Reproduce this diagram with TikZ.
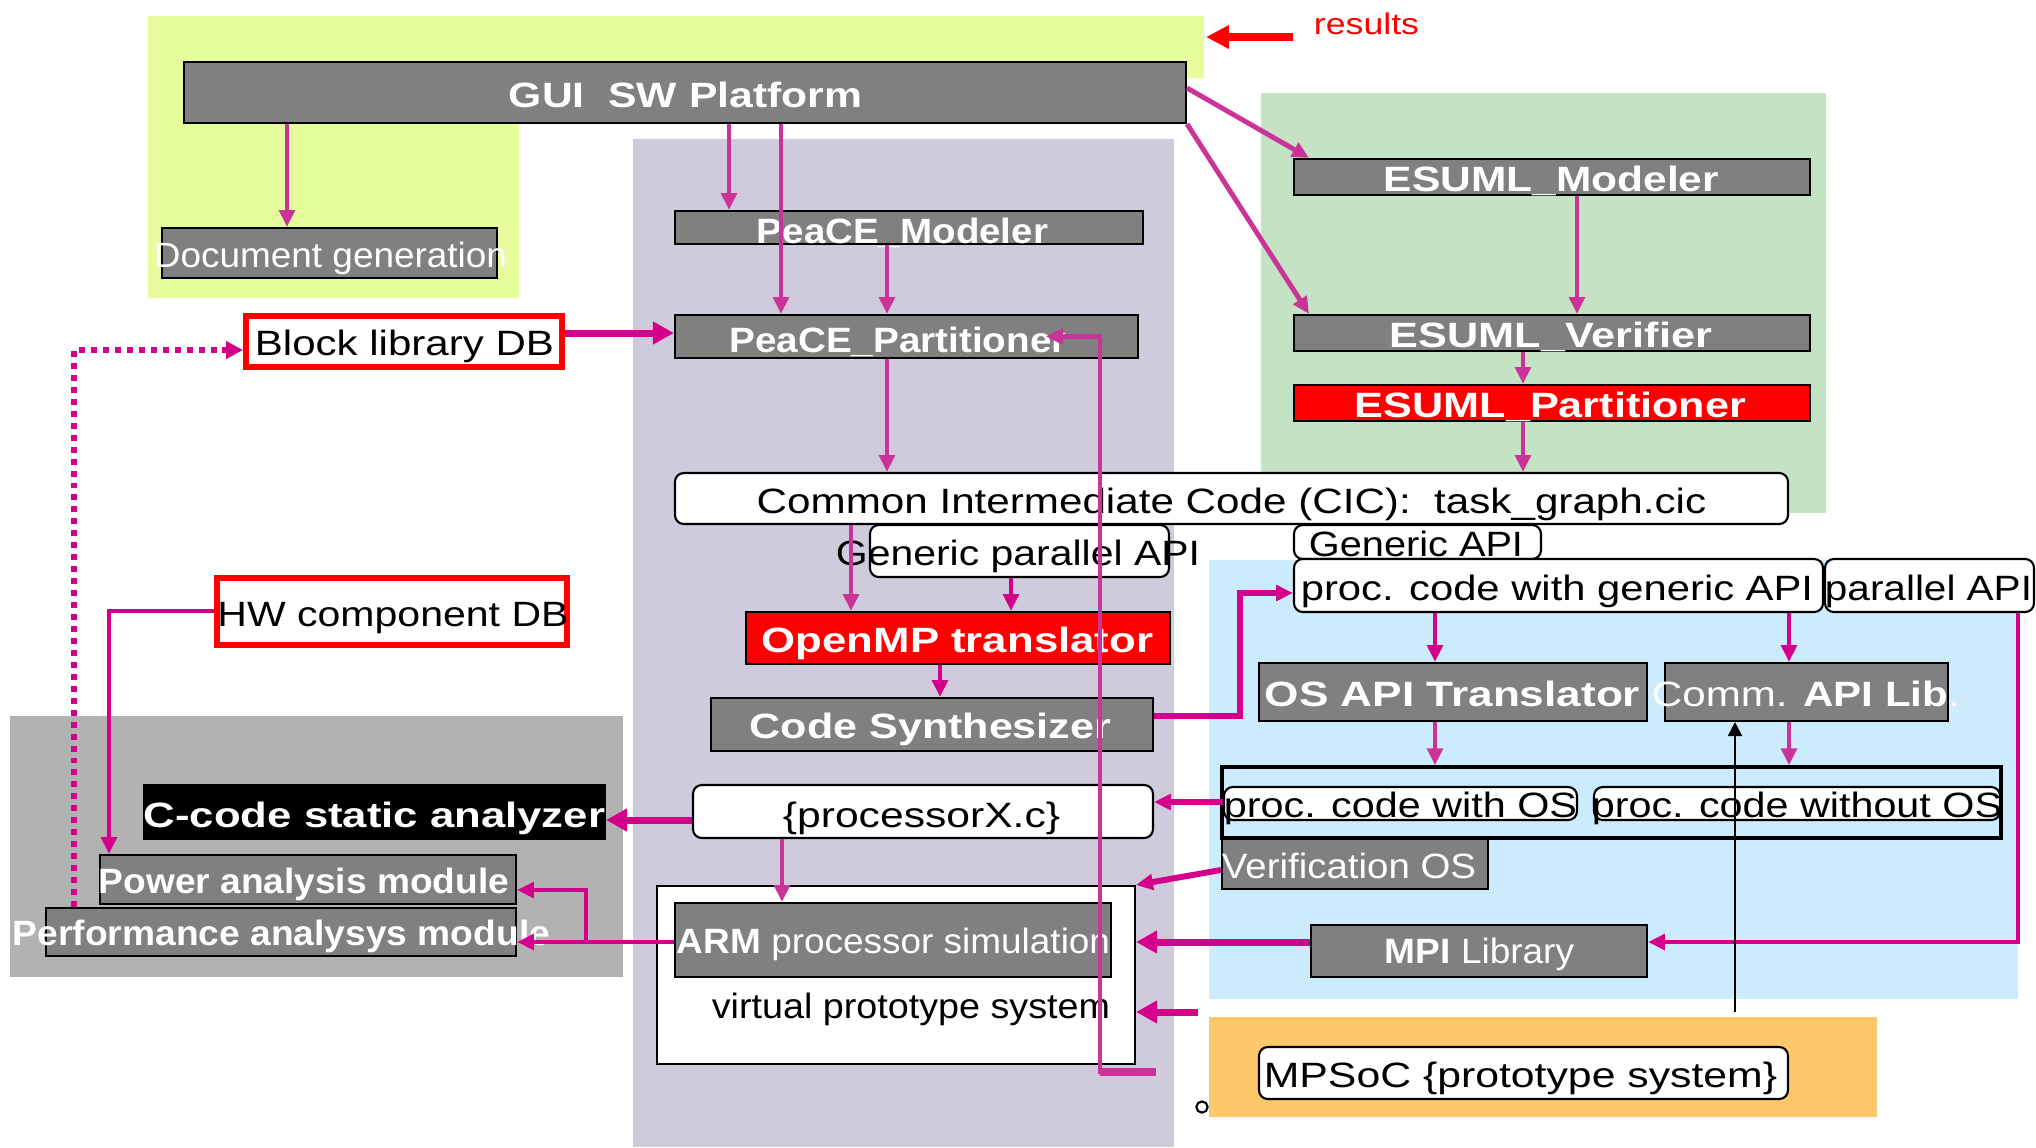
\documentclass[tikz,border=0pt]{standalone}
\usepackage{fontspec}
\setmainfont{Liberation Sans}
\usepackage{graphicx}
\usetikzlibrary{arrows.meta,fit}

\definecolor{ylw}{RGB}{229,253,157}
\definecolor{lav}{RGB}{207,203,221}
\definecolor{grn}{RGB}{196,227,196}
\definecolor{sky}{RGB}{204,235,252}
\definecolor{org}{RGB}{253,200,106}
\definecolor{gry}{RGB}{178,178,178}
\definecolor{boxg}{RGB}{128,128,128}
\definecolor{mag}{RGB}{212,0,140}
\definecolor{lmag}{RGB}{204,51,153}

% set a text horizontally squeezed/stretched to a given width (1 unit = 0.01cm)
\newsavebox\fitbox
\newcommand\fitto[2]{\sbox\fitbox{#2}\pgfmathsetmacro\fitsx{#1*0.284528/\the\wd\fitbox}\scalebox{\fitsx}[1]{\usebox\fitbox}}

\tikzset{
  gbox/.style={draw=black, fill=boxg, line width=0.6pt, inner sep=0pt},
  rbox/.style={draw=black, fill=red, line width=0.6pt, inner sep=0pt},
  kbox/.style={draw=black, fill=black, line width=0.6pt, inner sep=0pt},
  wbox/.style={draw=black, fill=white, line width=0.6pt, rounded corners=2.5pt, inner sep=0pt},
  dbbox/.style={draw=red, fill=white, line width=1.7pt, inner sep=0pt},
  plainbox/.style={draw=black, fill=white, line width=0.6pt, inner sep=0pt},
  framebox/.style={draw=black, line width=1pt, inner sep=0pt},
  lbl/.style={inner sep=0pt, anchor=base, font=\fontsize{10}{12}\selectfont},
  wlbl/.style={lbl, text=white},
  flow/.style={draw=lmag, line width=1.4pt, -{Triangle[length=4.8pt,width=4.4pt]}},
  link/.style={draw=mag, line width=1.4pt, -{Triangle[length=4.8pt,width=4.4pt]}},
  heavy/.style={draw=mag, line width=2pt, -{Triangle[length=6pt,width=6.2pt]}},
  dotlink/.style={draw=mag, line width=1.7pt, dash pattern=on 1.7pt off 1.7pt, -{Triangle[length=4.8pt,width=4.8pt]}},
  redarrow/.style={draw=red, line width=2pt, -{Triangle[length=6.5pt,width=6.3pt]}},
  thinarrow/.style={draw=black, line width=0.6pt, -{Triangle[length=4pt,width=4pt]}}
}

\begin{document}
\begin{tikzpicture}[x=0.01cm,y=-0.01cm]
\useasboundingbox (0,0) rectangle (2036,1147);

% background zones
\fill[ylw] (148,16) -- (1204,16) -- (1204,78) -- (519,78) -- (519,298) -- (148,298) -- cycle;
\fill[lav] (633,139) rectangle (1174,1147);
\fill[grn] (1261,93) rectangle (1826,513);
\fill[sky] (1209,560) rectangle (2018,999);
\fill[org] (1209,1017) rectangle (1877,1117);
\fill[gry] (10,716) rectangle (623,977);

% boxes
\node[gbox, fit={(184,62) (1186,123)}] (gui) {};
\node[gbox, fit={(162,228) (497,278)}] (docgen) {};
\node[gbox, fit={(675,211) (1143,244)}] (peaceM) {};
\node[gbox, fit={(675,315) (1138,358)}] (peaceP) {};
\node[gbox, fit={(1294,159) (1810,195)}] (esumlM) {};
\node[gbox, fit={(1294,315) (1810,351)}] (esumlV) {};
\node[rbox, fit={(1294,385) (1810,421)}] (esumlP) {};
\node[dbbox, fit={(246,316) (562,367)}] (blockdb) {};
\node[wbox, fit={(675,473) (1788,524)}] (cic) {};
\node[wbox, fit={(870,525) (1169,577)}] (gpapi) {};
\node[rbox, fit={(746,612) (1170,664)}] (openmp) {};
\node[gbox, fit={(711,698) (1153,751)}] (codesyn) {};
\node[wbox, fit={(693,785) (1153,838)}] (procx) {};
\node[dbbox, fit={(217,578) (567,645)}] (hwdb) {};
\node[kbox, fit={(144,785) (605,839)}] (ccode) {};
\node[gbox, fit={(100,855) (516,904)}] (power) {};
\node[gbox, fit={(46,908) (516,956)}] (perf) {};
\node[plainbox, fit={(657,886) (1135,1064)}] (virt) {};
\node[gbox, fit={(675,903) (1111,977)}] (arm) {};
\node[wbox, fit={(1294,525) (1541,559)}] (genapi) {};
\node[wbox, fit={(1294,559) (1823,612)}] (procgen) {};
\node[wbox, fit={(1825,559) (2034,612)}] (parapi) {};
\node[gbox, fit={(1259,663) (1647,721)}] (osapi) {};
\node[gbox, fit={(1665,663) (1948,721)}] (comm) {};
\node[framebox, fit={(1222,767) (2001,838)}] (frameOS) {};
\node[wbox, fit={(1224,787) (1577,820)}] (procos) {};
\node[wbox, fit={(1594,787) (2000,820)}] (procnoos) {};
\node[gbox, fit={(1222,839) (1488,889)}] (verios) {};
\node[gbox, fit={(1311,925) (1647,977)}] (mpi) {};
\node[wbox, fit={(1259,1047) (1788,1099)}] (mpsoc) {};
\node[draw=black, line width=0.6pt, circle, inner sep=0pt, minimum size=3.2pt] (pin) at (1202,1107) {};

% labels
\node[wlbl] (guiT) at (685.5,107) {\fitto{353}{\bfseries GUI\ \ SW Platform}};
\node[wlbl] (docgenT) at (330.5,267) {\fitto{353}{Document generation}};
\node[lbl] (blockdbT) at (404.5,355) {\fitto{299}{Block library DB}};
\node[wlbl] (peaceMT) at (902.5,243) {\fitto{291}{\bfseries PeaCE\_Modeler}};
\node[wlbl] (peacePT) at (898,352) {\fitto{337}{\bfseries PeaCE\_Partitioner}};
\node[wlbl] (esumlMT) at (1551.5,191) {\fitto{335}{\bfseries ESUML\_Modeler}};
\node[wlbl] (esumlVT) at (1551,347) {\fitto{322}{\bfseries ESUML\_Verifier}};
\node[wlbl] (esumlPT) at (1550.5,417) {\fitto{391}{\bfseries ESUML\_Partitioner}};
\node[lbl] (cicT) at (1231.5,513) {\fitto{949}{Common Intermediate Code (CIC):\ \ task\_graph.cic}};
\node[lbl] (gpapiT) at (1018,565) {\fitto{364}{Generic parallel API}};
\node[wlbl] (openmpT) at (957.5,652) {\fitto{391}{\bfseries OpenMP translator}};
\node[wlbl] (codesynT) at (930.5,738) {\fitto{361}{\bfseries Code Synthesizer}};
\node[lbl] (procxT) at (921.5,827) {\fitto{277}{\{processorX.c\}}};
\node[lbl] (genapiT) at (1416,556) {\fitto{214}{Generic API}};
\node[lbl] (procgenT) at (1557,600) {\fitto{512}{proc. code with generic API}};
\node[lbl] (parapiT) at (1928.5,600) {\fitto{207}{parallel API}};
\node[wlbl] (osapiT) at (1452.5,706) {\fitto{375}{\bfseries OS API Translator}};
\node[wlbl] (commT) at (1806,706) {\fitto{308}{Comm. \textbf{API Lib}.}};
\node[lbl] (procosT) at (1400.5,817) {\fitto{353}{proc. code with OS}};
\node[lbl] (procnoosT) at (1797,817) {\fitto{410}{proc. code without OS}};
\node[wlbl] (veriosT) at (1349,878) {\fitto{254}{Verification OS}};
\node[wlbl] (mpiT) at (1479.5,963) {\fitto{189}{\textbf{MPI} Library}};
\node[wlbl] (armT) at (893.5,953) {\fitto{433}{\textbf{ARM} processor simulation}};
\node[lbl] (virtT) at (911,1018) {\fitto{398}{virtual prototype system}};
\node[lbl] (mpsocT) at (1520.5,1087) {\fitto{513}{MPSoC \{prototype system\}}};
\node[lbl] (hwdbT) at (393,626) {\fitto{351}{HW component DB}};
\node[wlbl] (ccodeT) at (374.5,827) {\fitto{461}{\bfseries C-code static analyzer}};
\node[wlbl] (powerT) at (304,893) {\fitto{410}{\bfseries Power analysis module}};
\node[wlbl] (perfT) at (281.5,945) {\fitto{537}{\bfseries Performance analysys module}};
\node[lbl, text=red, font=\fontsize{8.5}{10}\selectfont] (resT) at (1366.5,34) {\fitto{105}{results}};

% free ends
\coordinate (resA) at (1293,37);
\coordinate (resB) at (1206,37);
\coordinate (tailA) at (1156,1072);
\coordinate (split) at (586,942);
\coordinate (protoIn) at (1198,1012);
\coordinate (boardLink) at (1735,1012);

% connectors
\draw[redarrow] (resA) -- (resB);
\draw[flow] (gui.south -| 287,0) -- (docgen.north -| 287,0);
\draw[flow] (gui.south -| 729,0) -- (peaceM.north -| 729,0);
\draw[flow] (gui.south -| 781,0) -- (peaceP.north -| 781,0);
\draw[flow] (peaceM.south -| 887,0) -- (peaceP.north -| 887,0);
\draw[flow] (gui.east |- 0,88) -- (esumlM.north west -| 1309,0);
\draw[flow] (gui.south east) -- (esumlV.north west -| 1309,0);
\draw[flow] (esumlM.south -| 1577,0) -- (esumlV.north -| 1577,0);
\draw[flow] (esumlV.south -| 1523,0) -- (esumlP.north -| 1523,0);
\draw[flow] (esumlP.south -| 1523,0) -- (cic.north -| 1523,0);
\draw[flow] (peaceP.south -| 887,0) -- (cic.north -| 887,0);
\draw[flow] (cic.south -| 851,0) -- (openmp.north -| 851,0);
\draw[link] (gpapi.south -| 1011,0) -- (openmp.north -| 1011,0);
\draw[link] (openmp.south -| 940,0) -- (codesyn.north -| 940,0);
\draw[heavy] (blockdb.east |- 0,333) -- (peaceP.west |- 0,333);
\draw[dotlink] (perf.north -| 74,0) |- (blockdb.west |- 0,350);
\draw[flow, line width=1.2pt] (tailA) -- (1100,1072) |- (peaceP.center -| 1046,0);
\draw[lmag, line width=2.2pt] (tailA) -- (1100,1072);
\draw[link, line width=1.7pt] (codesyn.east |- 0,716) -| (1240,593) -- (procgen.west |- 0,593);
\draw[link] (procgen.south -| 1435,0) -- (osapi.north -| 1435,0);
\draw[link] (procgen.south -| 1789,0) -- (comm.north -| 1789,0);
\draw[flow] (osapi.south -| 1435,0) -- (frameOS.north -| 1435,0);
\draw[flow] (comm.south -| 1789,0) -- (frameOS.north -| 1789,0);
\draw[link, line width=1.7pt] (procos.west |- 0,802) -- (procx.east |- 0,802);
\draw[heavy] (procx.west |- 0,820) -- (ccode.east |- 0,820);
\draw[flow] (procx.south -| 782,0) -- (arm.north -| 782,0);
\draw[link, line width=1.7pt] (verios.west |- 0,870) -- (virt.north east);
\draw[link] (parapi.south -| 2018,0) |- (mpi.east |- 0,942);
\draw[heavy] (mpi.west |- 0,942) -- (virt.east |- 0,942);
\draw[heavy] (protoIn) -- (virt.east |- 0,1012);
\draw[link] (hwdb.west |- 0,611) -| (power.north -| 109,0);
\draw[link] (arm.west |- 0,942) -- (perf.east |- 0,942);
\draw[link] (split) |- (power.east |- 0,890);
\draw[thinarrow] (boardLink) -- (comm.south -| 1735,0);
\end{tikzpicture}
\end{document}
